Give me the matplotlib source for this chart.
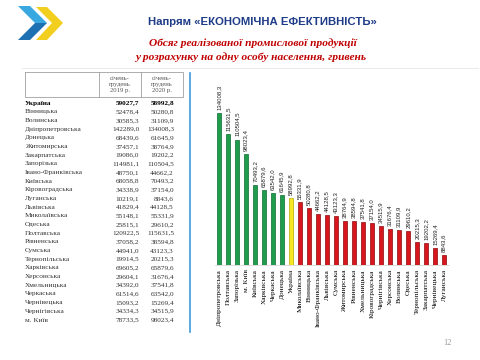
import numpy as np
import matplotlib.pyplot as plt
from matplotlib.patches import Polygon

# data (table order)
regions = ['Україна', 'Вінницька', 'Волинська', 'Дніпропетровська', 'Донецька',
           'Житомирська', 'Закарпатська', 'Запорізька', 'Івано-Франківська',
           'Київська', 'Кіровоградська', 'Луганська', 'Львівська', 'Миколаївська',
           'Одеська', 'Полтавська', 'Рівненська', 'Сумська', 'Тернопільська',
           'Харківська', 'Херсонська', 'Хмельницька', 'Черкаська', 'Чернівецька',
           'Чернігівська', 'м. Київ']
v2019 = [59027.7, 52478.4, 30585.3, 142289.0, 68439.6, 37457.1, 19086.0, 114981.1,
         48750.1, 68058.8, 34338.9, 10219.1, 41829.4, 55148.1, 25815.1, 120922.5,
         37058.2, 44941.0, 19914.5, 69605.2, 29604.1, 34392.0, 61514.6, 15093.2,
         34334.3, 78733.5]
v2020 = [58992.8, 50280.8, 31109.9, 134008.3, 61645.9, 38764.9, 19202.2, 110504.5,
         44662.2, 70493.2, 37154.0, 8843.6, 44128.5, 55331.9, 29610.2, 115631.5,
         38594.8, 43123.3, 20215.3, 65879.6, 31676.4, 37541.8, 63542.0, 15269.4,
         34515.9, 98023.4]
col_head = ['січень-\nгрудень\n2019 р.', 'січень-\nгрудень\n2020 р.']


def fmt(v):
    return f'{v:.1f}'.replace('.', ',')


fig = plt.figure(figsize=(4.8, 3.6), dpi=100)
bg = fig.add_axes([0, 0, 1, 1])
bg.set_xlim(0, 480)
bg.set_ylim(360, 0)
bg.axis('off')

# logo
bg.add_patch(Polygon([(36, 7), (47, 7), (63, 23), (47, 40), (36, 40), (52, 23)],
                     closed=True, color='#f2cf1f', lw=0))
bg.add_patch(Polygon([(18, 6), (30, 6), (47, 23), (35, 23)],
                     closed=True, color='#3aa8e0', lw=0))
bg.add_patch(Polygon([(35, 23), (47, 23), (30, 40), (18, 40)],
                     closed=True, color='#1d70b2', lw=0))

# header texts
bg.text(262, 22, 'Напрям «ЕКОНОМІЧНА ЕФЕКТИВНІСТЬ»', ha='center', va='center',
        fontsize=8.2, fontweight='bold', color='#1f3c88', family='Liberation Sans')
bg.text(253, 43, 'Обсяг реалізованої промислової продукції', ha='center', va='center',
        fontsize=8.2, fontweight='bold', style='italic', color='#c00000',
        family='Liberation Serif')
bg.text(251, 57, 'у розрахунку на одну особу населення, гривень', ha='center',
        va='center', fontsize=8.2, fontweight='bold', style='italic', color='#c00000',
        family='Liberation Serif')
bg.plot([22, 478], [68, 68], color='#e6e6e6', lw=0.6)

# table
gc = '#a0a0a0'
bg.plot([25, 183, 183, 25, 25], [72, 72, 97, 97, 72], color=gc, lw=0.6)
bg.plot([99, 99], [72, 97], color=gc, lw=0.6)
bg.plot([141, 141], [72, 97], color=gc, lw=0.6)
bg.text(120, 84.5, col_head[0], ha='center', va='center', fontsize=4.8,
        family='Liberation Serif', color='#555555', linespacing=1.35)
bg.text(162, 84.5, col_head[1], ha='center', va='center', fontsize=4.8,
        family='Liberation Serif', color='#555555', linespacing=1.35)
for i, name in enumerate(regions):
    y = 103 + i * 8.68
    fw = 'bold' if i == 0 else 'normal'
    c = 'black' if i == 0 else '#333333'
    bg.text(25, y, name, ha='left', va='center', fontsize=5.2, fontweight=fw,
            family='Liberation Serif', color=c)
    bg.text(139, y, fmt(v2019[i]), ha='right', va='center', fontsize=5.2,
            fontweight=fw, family='Liberation Serif', color=c)
    bg.text(174, y, fmt(v2020[i]), ha='right', va='center', fontsize=5.2,
            fontweight=fw, family='Liberation Serif', color=c)

bg.plot([190, 190], [73, 332], color='#3d9be0', lw=1.2)
bg.text(447, 343, '12', ha='center', va='center', fontsize=6,
        family='Liberation Serif', color='#999999')

# chart
order = np.argsort(v2020)[::-1]
names = [regions[i] for i in order]
vals = [v2020[i] for i in order]
ukr = v2020[0]
colors, edges = [], []
for n, v in zip(names, vals):
    if n == 'Україна':
        colors.append('#f7e824'); edges.append('#b8a800')
    elif v > ukr:
        colors.append('#1f9d4c'); edges.append('#0e6a30')
    else:
        colors.append('#d9161e'); edges.append('#8a0a0a')

ax = fig.add_axes([214.5 / 480, 95 / 360, 234 / 480, 190 / 360])
ax.patch.set_alpha(0)
x = np.arange(len(vals))
ax.bar(x, vals, width=0.45, color=colors, edgecolor=edges, linewidth=0.5)
for i, v in enumerate(vals):
    ax.text(i, v + 2800, fmt(v), rotation=90, ha='center', va='bottom',
            fontsize=4.3, family='Liberation Sans', color='#222222')
ax.set_xlim(-0.5, len(vals) - 0.5)
ax.set_ylim(0, 167500)
ax.set_yticks([])
ax.set_xticks(x)
ax.set_xticklabels(names, rotation=90, fontsize=5.2, family='Liberation Serif')
ax.tick_params(axis='x', length=0, pad=3)
for s in ['top', 'right', 'left']:
    ax.spines[s].set_visible(False)
ax.spines['bottom'].set_color('#d0d0d0')
ax.spines['bottom'].set_linewidth(0.5)

fig.savefig('out.png', dpi=100)
